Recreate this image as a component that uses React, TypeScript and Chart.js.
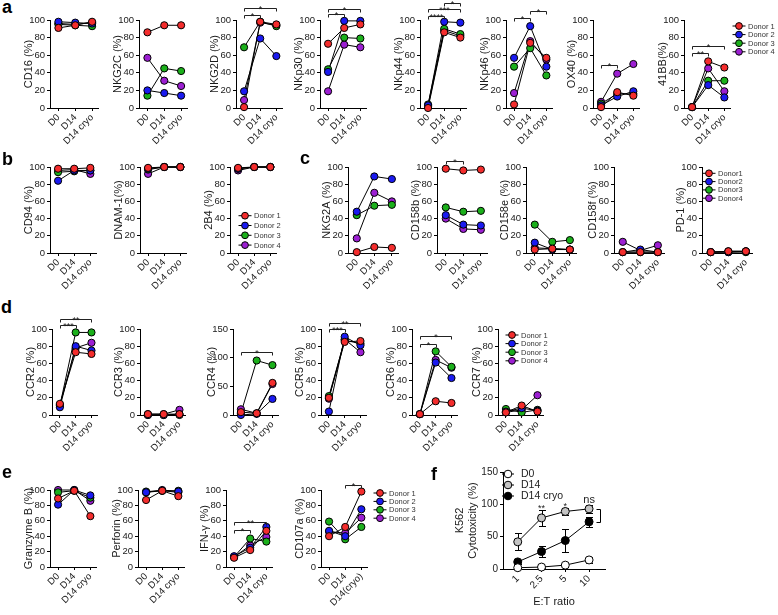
import React, { useEffect, useRef } from 'react';
import { Chart, registerables } from 'chart.js';

Chart.register(...registerables);

const FONT = '"Liberation Sans", Arial, Helvetica, sans-serif';
const INK = '#1a1a1a';
const DONOR_COLORS = ['#f42d2d', '#1a1af0', '#1bb01b', '#9c1fd2'];
const WY = 28;
const HX = 42;

// ---------------- categories / labels ----------------
const stages = ['D0', 'D14', 'D14 cryo'];
const stagesParen = ['D0', 'D14', 'D14(cryo)'];
const donorLabels = ['Donor 1', 'Donor 2', 'Donor 3', 'Donor 4'];
const donorLabelsC = ['Donor1', 'Donor2', 'Donor3', 'Donor4'];
const pctTicks = [0, 20, 40, 60, 80, 100];
const ccr4Ticks = [0, 50, 100, 150];

// ---------------- values: rows = Donor 1..4, cols = D0, D14, D14 cryo ----------------
const cd16 = [[91, 94, 98], [98, 97, 96], [95, 94, 93], [96, 95, 97]];
const nkg2c = [[86, 94, 94], [20, 17, 14], [14, 45, 42], [57, 31, 25]];
const nkg2d = [[1, 98, 95], [19, 79, 59], [69, 98, 93], [9, 97, 94]];
const nkp30 = [[73, 91, 95], [41, 99, 99], [44, 80, 79], [19, 72, 69]];
const nkp44 = [[0, 86, 80], [3, 98, 97], [4, 90, 84], [2, 88, 82]];
const nkp46 = [[4, 74, 57], [57, 93, 47], [47, 68, 37], [17, 76, 55]];
const ox40 = [[1, 18, 14], [3, 13, 19], [5, 16, 16], [7, 39, 50]];
const bb41 = [[1, 53, 46], [1, 26, 12], [1, 31, 31], [1, 45, 19]];

const cd94 = [[98, 98, 99], [84, 96, 96], [94, 95, 96], [96, 97, 92]];
const dnam1 = [[99, 100, 100], [98, 100, 100], [97, 100, 100], [92, 100, 100]];
const b2b4 = [[99, 100, 100], [98, 100, 100], [98, 100, 100], [96, 100, 100]];

const nkg2a = [[1, 7, 6], [48, 89, 86], [44, 55, 56], [17, 70, 60]];
const cd158b = [[98, 96, 97], [44, 33, 32], [53, 48, 49], [40, 28, 27]];
const cd158e = [[4, 5, 4], [12, 4, 4], [33, 13, 15], [6, 5, 4]];
const cd158f = [[1, 1, 1], [1, 4, 1], [1, 1, 1], [13, 3, 9]];
const pd1 = [[1, 2, 2], [1, 1, 2], [1, 1, 1], [1, 2, 2]];

const ccr2 = [[13, 73, 71], [9, 80, 75], [11, 96, 96], [12, 78, 84]];
const ccr3 = [[1, 1, 1], [0, 0, 1], [0, 0, 0], [1, 1, 6]];
const ccr4 = [[5, 3, 56], [0, 2, 28], [3, 95, 87], [10, 3, 54]];
const ccr5 = [[20, 85, 86], [4, 91, 81], [22, 87, 83], [19, 88, 73]];
const ccr6 = [[1, 16, 14], [1, 61, 43], [1, 74, 56], [1, 64, 55]];
const ccr7 = [[3, 11, 4], [4, 8, 5], [7, 3, 6], [3, 6, 23]];

const granzymeB = [[89, 99, 66], [81, 100, 93], [97, 99, 90], [100, 100, 86]];
const perforin = [[87, 99, 92], [97, 100, 98], [98, 99, 99], [97, 99, 97]];
const ifng = [[12, 22, 47], [14, 25, 52], [13, 37, 33], [13, 28, 39]];
const cd107a = [[40, 52, 98], [47, 40, 75], [59, 36, 52], [46, 44, 64]];

// significance brackets: [fromIndex, toIndex, value level, label]
type Bracket = [number, number, number, string];
const sigNKG2D: Bracket[] = [[0, 1, 106, '*'], [0, 2, 114, '*']];
const sigNKp30: Bracket[] = [[0, 1, 107, '*'], [0, 2, 113, '*']];
const sigNKp44: Bracket[] = [[0, 1, 105, '****'], [0, 2, 112, '***'], [1, 2, 119, '*']];
const sigNKp46: Bracket[] = [[0, 1, 102, '*'], [1, 2, 110, '*']];
const sigOX40: Bracket[] = [[0, 1, 49, '*']];
const sig41BB: Bracket[] = [[0, 1, 63, '**'], [0, 2, 71, '*']];
const sigCD158b: Bracket[] = [[0, 1, 107, '*']];
const sigCCR2: Bracket[] = [[0, 1, 105, '***'], [0, 2, 112, '**']];
const sigCCR4: Bracket[] = [[0, 2, 110, '*']];
const sigCCR5: Bracket[] = [[0, 1, 100, '***'], [0, 2, 107, '**']];
const sigCCR6: Bracket[] = [[0, 1, 83, '*'], [0, 2, 92, '*']];
const sigIFNG: Bracket[] = [[0, 1, 48, '*'], [0, 2, 59, '**']];
const sigCD107a: Bracket[] = [[1, 2, 106, '*']];

// panel f
const etRatios = ['1', '2.5', '5', '10'];
const fGroups = ['D0', 'D14', 'D14 cryo'];
const fD0 = [2, 3, 6, 14];
const fD0Err = [1, 1, 2, 4];
const fD14 = [42, 79, 89, 93];
const fD14Err = [13, 12, 6, 6];
const fCryo = [11, 27, 44, 73];
const fCryoErr = [3, 8, 18, 8];
const fSig = ['', '**', '*', 'ns'];
const fTicks = [0, 50, 100, 150];

// ---------------- layout ----------------
interface LegendSpec { x: number; y: number; dy: number; labels: string[] }
interface PanelSpec {
  title: string; data: number[][]; cats?: string[]; ticks?: number[];
  L: number; W: number; T: number; B: number; sig?: Bracket[]; legend?: LegendSpec;
}

const panels: PanelSpec[] = [
  { title: 'CD16 (%)', data: cd16, L: 50, W: 48, T: 20, B: 108 },
  { title: 'NKG2C (%)', data: nkg2c, L: 139, W: 48, T: 20, B: 108 },
  { title: 'NKG2D (%)', data: nkg2d, L: 236, W: 46, T: 20, B: 108, sig: sigNKG2D },
  { title: 'NKp30 (%)', data: nkp30, L: 320, W: 46, T: 20, B: 108, sig: sigNKp30 },
  { title: 'NKp44 (%)', data: nkp44, L: 420, W: 46, T: 20, B: 108, sig: sigNKp44 },
  { title: 'NKp46 (%)', data: nkp46, L: 506, W: 46, T: 20, B: 108, sig: sigNKp46 },
  { title: 'OX40 (%)', data: ox40, L: 593, W: 46, T: 20, B: 108, sig: sigOX40 },
  { title: '41BB(%)', data: bb41, L: 684, W: 46, T: 20, B: 108, sig: sig41BB,
    legend: { x: 739, y: 26, dy: 8.6, labels: donorLabels } },

  { title: 'CD94 (%)', data: cd94, L: 50, W: 46, T: 167, B: 253 },
  { title: 'DNAM-1(%)', data: dnam1, L: 140, W: 46, T: 167, B: 253 },
  { title: '2B4 (%)', data: b2b4, L: 230, W: 46, T: 167, B: 253,
    legend: { x: 245, y: 215.7, dy: 9.8, labels: donorLabels } },

  { title: 'NKG2A (%)', data: nkg2a, L: 348, W: 50, T: 167, B: 253 },
  { title: 'CD158b (%)', data: cd158b, L: 437, W: 50, T: 167, B: 253, sig: sigCD158b },
  { title: 'CD158e (%)', data: cd158e, L: 526, W: 50, T: 167, B: 253 },
  { title: 'CD158f (%)', data: cd158f, L: 614, W: 50, T: 167, B: 253 },
  { title: 'PD-1 (%)', data: pd1, L: 702, W: 50, T: 167, B: 253,
    legend: { x: 709, y: 173.3, dy: 8.3, labels: donorLabelsC } },

  { title: 'CCR2 (%)', data: ccr2, L: 52, W: 45, T: 329, B: 415, sig: sigCCR2 },
  { title: 'CCR3 (%)', data: ccr3, L: 140, W: 45, T: 329, B: 415 },
  { title: 'CCR4 (%)', data: ccr4, ticks: ccr4Ticks, L: 233, W: 45, T: 329, B: 415, sig: sigCCR4 },
  { title: 'CCR5 (%)', data: ccr5, L: 321, W: 45, T: 329, B: 415, sig: sigCCR5 },
  { title: 'CCR6 (%)', data: ccr6, L: 412, W: 45, T: 329, B: 415, sig: sigCCR6 },
  { title: 'CCR7 (%)', data: ccr7, L: 498, W: 45, T: 329, B: 415,
    legend: { x: 512, y: 335, dy: 8.6, labels: donorLabels } },

  { title: 'Granzyme B (%)', data: granzymeB, L: 50, W: 46, T: 490, B: 567 },
  { title: 'Perforin (%)', data: perforin, L: 138, W: 46, T: 490, B: 567 },
  { title: 'IFN-γ (%)', data: ifng, L: 226, W: 46, T: 490, B: 567, sig: sigIFNG },
  { title: 'CD107a (%)', data: cd107a, cats: stagesParen, L: 321, W: 46, T: 490, B: 567, sig: sigCD107a,
    legend: { x: 380, y: 493, dy: 8.4, labels: donorLabels } },
];

const letters = [
  { t: 'a', x: 2, y: -2 }, { t: 'b', x: 2, y: 150 }, { t: 'c', x: 300, y: 149 },
  { t: 'd', x: 1, y: 298 }, { t: 'e', x: 2, y: 463 }, { t: 'f', x: 431, y: 465 },
];

function axisCommon() {
  return {
    grid: { drawOnChartArea: false, drawTicks: true, tickLength: 3, color: '#000', lineWidth: 1 },
    border: { display: true, color: '#000', width: 1 },
  };
}

function DonorPanel({ s }: { s: PanelSpec }) {
  const ref = useRef<HTMLCanvasElement>(null);
  const padTop = Math.min(s.T, 26);
  const left = s.L - WY;
  const top = s.T - padTop;
  let width = WY + s.W + (s.legend ? Math.max(10, s.legend.x + 46 - (s.L + s.W)) : 10);
  if (left + width > 778) width = 778 - left;
  const padRight = width - WY - s.W;
  const height = padTop + (s.B - s.T) + HX;

  useEffect(() => {
    const cats = s.cats ?? stages;
    const ticks = s.ticks ?? pctTicks;
    const overlay = {
      id: 'overlay',
      afterDatasetsDraw(chart: any) {
        const ctx = chart.ctx as CanvasRenderingContext2D;
        const xs = chart.scales.x, ys = chart.scales.y;
        ctx.save();
        ctx.strokeStyle = '#222';
        ctx.fillStyle = '#222';
        ctx.lineWidth = 1;
        ctx.font = `9px ${FONT}`;
        ctx.textAlign = 'center';
        ctx.textBaseline = 'alphabetic';
        (s.sig || []).forEach(([a, b, v, txt]) => {
          const x1 = Math.round(xs.getPixelForValue(a)) + 0.5;
          const x2 = Math.round(xs.getPixelForValue(b)) + 0.5;
          const y = Math.round(ys.getPixelForValue(v)) + 0.5;
          ctx.beginPath();
          ctx.moveTo(x1, y + 3); ctx.lineTo(x1, y); ctx.lineTo(x2, y); ctx.lineTo(x2, y + 3);
          ctx.stroke();
          ctx.fillText(txt, (x1 + x2) / 2, y + 3);
        });
        if (s.legend) {
          const lg = s.legend;
          ctx.font = `7.5px ${FONT}`;
          ctx.textAlign = 'left';
          ctx.textBaseline = 'middle';
          lg.labels.forEach((lab, i) => {
            const cx = lg.x - left, cy = lg.y + i * lg.dy - top;
            ctx.strokeStyle = '#000';
            ctx.beginPath(); ctx.moveTo(cx - 6.5, cy); ctx.lineTo(cx + 6.5, cy); ctx.stroke();
            ctx.beginPath(); ctx.arc(cx, cy, 3.4, 0, Math.PI * 2);
            ctx.fillStyle = DONOR_COLORS[i]; ctx.fill(); ctx.stroke();
            ctx.fillStyle = '#333';
            ctx.fillText(lab, cx + 9, cy + 0.5);
          });
        }
        ctx.restore();
      },
    };
    const lineSets = s.data.map((vals) => ({
      data: vals.map((v, j) => ({ x: j, y: v })),
      borderColor: '#000', borderWidth: 1, pointRadius: 0, order: 2, clip: false, fill: false,
    }));
    const pointSets = s.data.map((vals, i) => ({
      data: vals.map((v, j) => ({ x: j, y: v })),
      showLine: false, pointRadius: 3.6, pointBackgroundColor: DONOR_COLORS[i],
      pointBorderColor: '#000', pointBorderWidth: 1, order: 1, clip: false,
    }));
    const chart = new Chart(ref.current!, {
      type: 'line',
      data: { datasets: [...lineSets, ...pointSets] as any },
      plugins: [overlay],
      options: {
        responsive: false, animation: false, devicePixelRatio: 1, events: [],
        layout: { padding: { top: padTop, right: padRight, left: 0, bottom: 0 } },
        plugins: { legend: { display: false }, tooltip: { enabled: false } },
        scales: {
          x: {
            type: 'linear', min: -0.5, max: 2.35,
            afterBuildTicks: (sc: any) => { sc.ticks = cats.map((_, i) => ({ value: i })); },
            afterFit: (sc: any) => { sc.height = HX; },
            ticks: {
              autoSkip: false, minRotation: 45, maxRotation: 45, padding: 1,
              font: { family: FONT, size: 9.5 }, color: INK,
              callback: (v: any) => cats[v as number],
            },
            ...axisCommon(),
          },
          y: {
            type: 'linear', min: 0, max: ticks[ticks.length - 1],
            afterBuildTicks: (sc: any) => { sc.ticks = ticks.map((v) => ({ value: v })); },
            afterFit: (sc: any) => { sc.width = WY; },
            ticks: { padding: 2, font: { family: FONT, size: 9.5 }, color: INK },
            title: { display: true, text: s.title, padding: 0, color: INK, font: { family: FONT, size: 11 } },
            ...axisCommon(),
          },
        },
      } as any,
    });
    return () => chart.destroy();
  }, []);

  return (
    <canvas ref={ref} width={width} height={height}
      style={{ position: 'absolute', left, top, width, height }} />
  );
}

function CytoPanel() {
  const ref = useRef<HTMLCanvasElement>(null);
  const L = 503, R = 605, T = 472, B = 569;
  const wy = 50, padTop = 8, padRight = 16, hx = 44;
  const left = L - wy, top = T - padTop;
  const width = wy + (R - L) + padRight;
  const height = padTop + (B - T) + hx;

  useEffect(() => {
    const vals = [fD0, fD14, fCryo];
    const errs = [fD0Err, fD14Err, fCryoErr];
    const fills = ['#ffffff', '#c4c4c4', '#000000'];
    const overlay = {
      id: 'fOverlay',
      beforeDatasetsDraw(chart: any) {
        const ctx = chart.ctx as CanvasRenderingContext2D;
        const xs = chart.scales.x, ys = chart.scales.y;
        ctx.save();
        ctx.strokeStyle = '#000';
        ctx.lineWidth = 1;
        vals.forEach((arr, g) => {
          arr.forEach((v, i) => {
            const x = Math.round(xs.getPixelForValue(i)) + 0.5;
            const y1 = Math.round(ys.getPixelForValue(v + errs[g][i])) + 0.5;
            const y2 = Math.round(ys.getPixelForValue(Math.max(0, v - errs[g][i]))) + 0.5;
            ctx.beginPath();
            ctx.moveTo(x, y1); ctx.lineTo(x, y2);
            ctx.moveTo(x - 3.5, y1); ctx.lineTo(x + 3.5, y1);
            ctx.moveTo(x - 3.5, y2); ctx.lineTo(x + 3.5, y2);
            ctx.stroke();
          });
        });
        ctx.restore();
      },
      afterDatasetsDraw(chart: any) {
        const ctx = chart.ctx as CanvasRenderingContext2D;
        const xs = chart.scales.x, ys = chart.scales.y;
        ctx.save();
        ctx.fillStyle = '#222';
        ctx.strokeStyle = '#000';
        ctx.lineWidth = 1;
        ctx.textAlign = 'center';
        ctx.textBaseline = 'alphabetic';
        fSig.forEach((txt, i) => {
          if (!txt) return;
          const x = xs.getPixelForValue(i);
          const yTop = ys.getPixelForValue(fD14[i] + fD14Err[i]);
          ctx.font = txt === 'ns' ? `11px ${FONT}` : `9px ${FONT}`;
          ctx.fillText(txt, x, yTop - (txt === 'ns' ? 2 : -1));
        });
        // bracket D14 vs D14 cryo at the last ratio
        const last = etRatios.length - 1;
        const bx = Math.round(xs.getPixelForValue(last)) + 7.5;
        const ya = Math.round(ys.getPixelForValue(fD14[last])) + 0.5;
        const yb = Math.round(ys.getPixelForValue(fCryo[last])) + 0.5;
        ctx.beginPath();
        ctx.moveTo(bx, ya); ctx.lineTo(bx + 4, ya); ctx.lineTo(bx + 4, yb); ctx.lineTo(bx, yb);
        ctx.stroke();
        // legend
        ctx.font = `10.5px ${FONT}`;
        ctx.textAlign = 'left';
        ctx.textBaseline = 'middle';
        fGroups.forEach((lab, g) => {
          const cx = 508 - left, cy = 474 + g * 11 - top;
          ctx.beginPath(); ctx.moveTo(cx - 6, cy); ctx.lineTo(cx + 6, cy); ctx.stroke();
          ctx.beginPath(); ctx.arc(cx, cy, 3.8, 0, Math.PI * 2);
          ctx.fillStyle = fills[g]; ctx.fill(); ctx.stroke();
          ctx.fillStyle = '#222';
          ctx.fillText(lab, cx + 13, cy + 0.5);
        });
        ctx.restore();
      },
    };
    const lineSets = vals.map((arr) => ({
      data: arr.map((v, j) => ({ x: j, y: v })),
      borderColor: '#000', borderWidth: 1, pointRadius: 0, order: 2, clip: false,
    }));
    const pointSets = vals.map((arr, g) => ({
      data: arr.map((v, j) => ({ x: j, y: v })),
      showLine: false, pointRadius: 4, pointBackgroundColor: fills[g],
      pointBorderColor: '#000', pointBorderWidth: 1, order: 1, clip: false,
    }));
    const chart = new Chart(ref.current!, {
      type: 'line',
      data: { datasets: [...lineSets, ...pointSets] as any },
      plugins: [overlay],
      options: {
        responsive: false, animation: false, devicePixelRatio: 1, events: [],
        layout: { padding: { top: padTop, right: padRight, left: 0, bottom: 0 } },
        plugins: { legend: { display: false }, tooltip: { enabled: false } },
        scales: {
          x: {
            type: 'linear', min: -0.62, max: 3.67,
            afterBuildTicks: (sc: any) => { sc.ticks = etRatios.map((_, i) => ({ value: i })); },
            afterFit: (sc: any) => { sc.height = hx; },
            ticks: {
              autoSkip: false, minRotation: 45, maxRotation: 45, padding: 1,
              font: { family: FONT, size: 10 }, color: INK,
              callback: (v: any) => etRatios[v as number],
            },
            title: { display: true, text: 'E:T ratio', padding: { top: 0, bottom: 4 }, color: INK, font: { family: FONT, size: 11 } },
            ...axisCommon(),
          },
          y: {
            type: 'linear', min: 0, max: 150,
            afterBuildTicks: (sc: any) => { sc.ticks = fTicks.map((v) => ({ value: v })); },
            afterFit: (sc: any) => { sc.width = wy; },
            ticks: { padding: 2, font: { family: FONT, size: 10 }, color: INK },
            title: { display: true, text: ['K562', 'Cytotoxicity (%)'], padding: 0, color: INK, font: { family: FONT, size: 11 } },
            ...axisCommon(),
          },
        },
      } as any,
    });
    return () => chart.destroy();
  }, []);

  return (
    <canvas ref={ref} width={width} height={height}
      style={{ position: 'absolute', left, top, width, height }} />
  );
}

export default function App() {
  return (
    <div style={{ position: 'absolute', left: 0, top: 0, width: 778, height: 615, overflow: 'hidden', background: '#fff' }}>
      {panels.map((p, i) => <DonorPanel key={i} s={p} />)}
      <CytoPanel />
      {letters.map((l) => (
        <div key={l.t} style={{
          position: 'absolute', left: l.x, top: l.y, fontFamily: FONT, fontWeight: 'bold',
          fontSize: 18, lineHeight: '18px', color: '#000',
        }}>{l.t}</div>
      ))}
    </div>
  );
}
